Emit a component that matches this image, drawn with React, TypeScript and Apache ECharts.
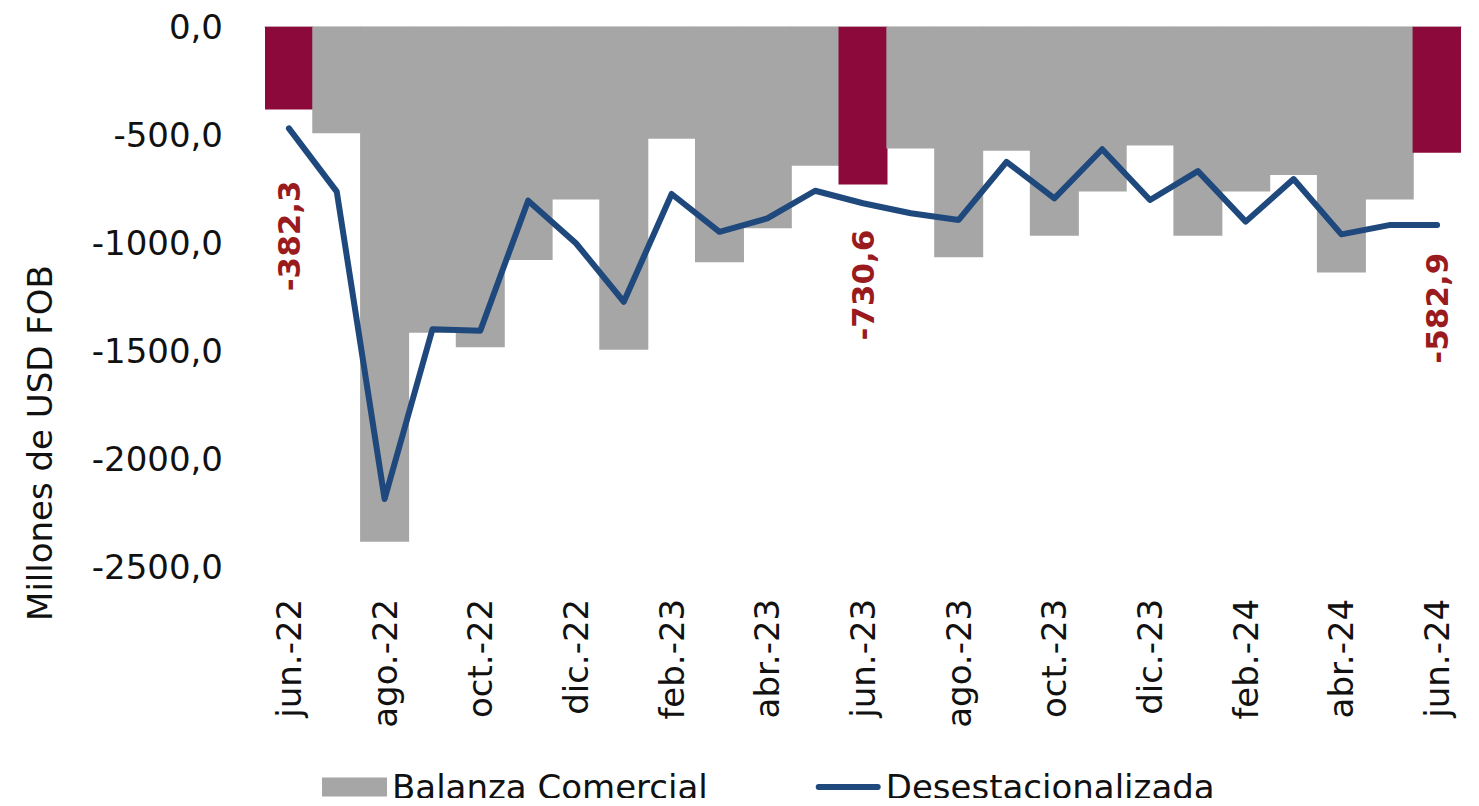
import React, { useEffect, useRef } from "react";
import * as echarts from "echarts";

const months = [
  "jun.-22", "jul.-22", "ago.-22", "sep.-22", "oct.-22", "nov.-22", "dic.-22",
  "ene.-23", "feb.-23", "mar.-23", "abr.-23", "may.-23", "jun.-23", "jul.-23",
  "ago.-23", "sep.-23", "oct.-23", "nov.-23", "dic.-23", "ene.-24", "feb.-24",
  "mar.-24", "abr.-24", "may.-24", "jun.-24",
];

const balanza = [
  -382.3, -493, -2384, -1416, -1484, -1080, -799, -1495, -518, -1090, -933, -643,
  -730.6, -563, -1067, -574, -967, -763, -550, -967, -763, -686, -1137, -799, -582.9,
];

const desestacionalizada = [
  -470, -763, -2186, -1400, -1407, -805, -1002, -1273, -774, -949, -887, -759,
  -817, -863, -894, -625, -794, -567, -802, -668, -902, -705, -961, -918, -918,
];

const highlighted = [0, 12, 24];
const labelGap: Record<number, number> = { 0: 61, 12: 42, 24: 95 };
const labelShift: Record<number, number> = { 0: -10, 12: -3, 24: -5 };

const yTicks = { min: -2500, max: 0, interval: 500 };

const FONT = "DejaVu Sans";
const GRAY = "#A6A6A6";
const RED = "#8C0A3B";
const BLUE = "#1F497D";
const fmt = (v: number) => v.toFixed(1).replace(".", ",");

export default function App() {
  const ref = useRef<HTMLDivElement>(null);

  useEffect(() => {
    if (!ref.current) return;
    const chart = echarts.init(ref.current, null, { renderer: "svg" });

    const barData = balanza.map((v, i) => {
      if (!highlighted.includes(i)) return v;
      return {
        value: v,
        itemStyle: { color: RED },
        label: {
          show: true,
          position: "bottom",
          distance: labelGap[i],
          rotate: 90,
          align: "right",
          verticalAlign: "middle",
          offset: [labelShift[i], 0],
          color: "#9A1B1E",
          fontSize: 31,
          fontWeight: "bold",
          fontFamily: FONT,
          formatter: (p: any) => fmt(p.value),
        },
      };
    });

    chart.setOption({
      animation: false,
      textStyle: { fontFamily: FONT },
      grid: { left: 265, right: 18, top: 26.8, bottom: 239.2, containLabel: false },
      legend: {
        bottom: 2,
        left: 322,
        padding: 0,
        itemWidth: 65,
        itemHeight: 19,
        itemGap: 108,
        textStyle: { fontSize: 34, color: "#111", fontFamily: FONT },
        data: [
          { name: "Balanza Comercial", icon: "rect" },
          {
            name: "Desestacionalizada",
            icon: "path://M0,0 M65,19 M3,6.5 L62,6.5 A3,3 0 0 1 62,12.5 L3,12.5 A3,3 0 0 1 3,6.5 Z",
            itemStyle: { color: BLUE },
          },
        ],
      },
      xAxis: [
        {
          type: "category",
          data: months,
          position: "bottom",
          axisLine: { show: false },
          axisTick: { show: false },
          axisLabel: {
            interval: 1,
            rotate: 90,
            fontSize: 34,
            color: "#111",
            margin: 32,
            fontFamily: FONT,
          },
        },
        {
          type: "category",
          data: months,
          position: "top",
          axisLine: { show: true, onZero: false, lineStyle: { color: "#D9D9D9", width: 2 } },
          axisTick: { show: false },
          axisLabel: { show: false },
        },
      ],
      yAxis: {
        type: "value",
        min: yTicks.min,
        max: yTicks.max,
        interval: yTicks.interval,
        axisLine: { show: false },
        axisTick: { show: false },
        splitLine: { show: false },
        axisLabel: {
          fontSize: 34,
          color: "#111",
          margin: 42,
          fontFamily: FONT,
          formatter: (v: number) => fmt(v),
        },
      },
      graphic: [
        {
          type: "text",
          x: 40,
          y: 443,
          rotation: Math.PI / 2,
          style: {
            text: "Millones de USD FOB",
            fontSize: 34,
            fontFamily: FONT,
            fill: "#111",
            align: "center",
            verticalAlign: "middle",
          },
        },
      ],
      series: [
        {
          name: "Balanza Comercial",
          type: "bar",
          data: barData,
          barWidth: 49,
          itemStyle: { color: GRAY },
        },
        {
          name: "Desestacionalizada",
          type: "line",
          data: desestacionalizada,
          symbol: "none",
          lineStyle: { color: BLUE, width: 6, cap: "round", join: "round" },
          itemStyle: { color: BLUE },
        },
      ],
    });

    return () => chart.dispose();
  }, []);

  return <div ref={ref} style={{ width: 1479, height: 806, margin: -8 }} />;
}
